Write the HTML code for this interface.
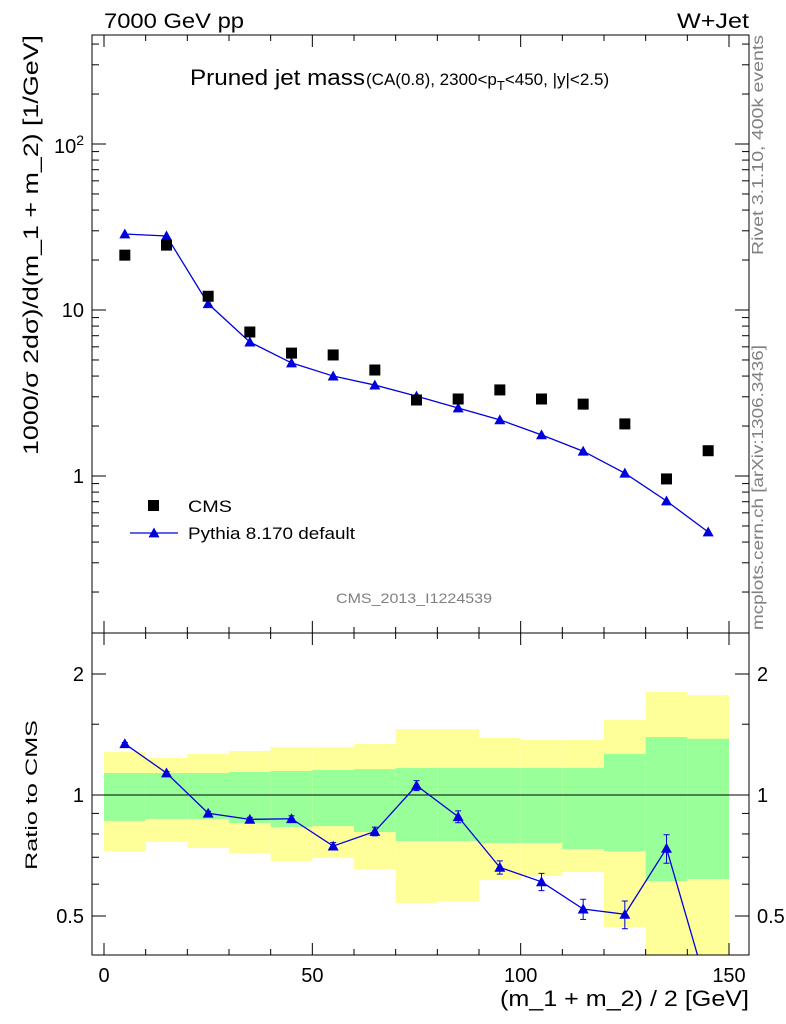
<!DOCTYPE html>
<html><head><meta charset="utf-8"><style>
body{margin:0;background:#fff}
svg{display:block;font-family:"Liberation Sans",sans-serif}
</style></head><body>
<svg id="c" width="786" height="1024" viewBox="0 0 786 1024"></svg>
<script>
const xCenters=[5,15,25,35,45,55,65,75,85,95,105,115,125,135,145];
const cmsValues=[21.4,24.6,12.1,7.37,5.5,5.36,4.35,2.87,2.91,3.3,2.91,2.71,2.06,0.96,1.42];
const pythiaValues=[28.7,27.9,10.9,6.41,4.8,4.0,3.53,3.03,2.57,2.18,1.77,1.41,1.04,0.707,0.46];
const ratioErr=[0.01,0.01,0.01,0.01,0.015,0.015,0.02,0.03,0.03,0.025,0.03,0.03,0.04,0.06,0.06];
const binEdges=[0,10,20,30,40,50,60,70,80,90,100,110,120,130,140,150];
const yellowHi=[1.28,1.236,1.265,1.287,1.317,1.317,1.339,1.459,1.459,1.386,1.37,1.37,1.537,1.804,1.773];
const yellowLo=[0.725,0.764,0.738,0.717,0.685,0.697,0.654,0.539,0.545,0.615,0.629,0.643,0.469,0.35,0.35];
const greenHi=[1.134,1.134,1.134,1.141,1.147,1.154,1.16,1.167,1.167,1.167,1.167,1.167,1.265,1.394,1.38];
const greenLo=[0.862,0.872,0.872,0.852,0.832,0.837,0.809,0.768,0.768,0.76,0.76,0.734,0.725,0.611,0.618];
const xTicks=[0,50,100,150];

const NS="http://www.w3.org/2000/svg";
const svg=document.getElementById('c');
function el(t,a,p){const e=document.createElementNS(NS,t);for(const k in a)e.setAttribute(k,a[k]);(p||svg).appendChild(e);return e;}
const L=92,R=749,MT=35,MB=633,RB=955;
const X=v=>104+v*(625/150);
const YM=v=>476-166*Math.log10(v);
const YR=v=>795-121*Math.log2(v);

const defs=el('defs',{});
const cp1=el('clipPath',{id:'cm'},defs);el('rect',{x:L,y:MT,width:R-L,height:MB-MT},cp1);
const cp2=el('clipPath',{id:'cr'},defs);el('rect',{x:L,y:MB,width:R-L,height:RB-MB},cp2);

const gBand=el('g',{'clip-path':'url(#cr)'});

for(let i=0;i<xCenters.length;i++){
  const x0=X(binEdges[i]),x1=X(binEdges[i+1]);
  const y=el('rect',{x:x0,y:YR(yellowHi[i]),width:x1-x0,height:YR(yellowLo[i])-YR(yellowHi[i]),fill:'#ffff99'},gBand);
  
  const g=el('rect',{x:x0,y:YR(greenHi[i]),width:x1-x0,height:YR(greenLo[i])-YR(greenHi[i]),fill:'#99ff99'},gBand);
  
}
el('line',{x1:L,x2:R,y1:YR(1),y2:YR(1),stroke:'#000','stroke-width':1});

for(const [t,b,n] of [[MT,MB,'main-frame'],[MB,RB,'ratio-frame']]){
  const r=el('rect',{x:L,y:t,width:R-L,height:b-t,fill:'none',stroke:'#000','stroke-width':1});
  
}
function tick(x1,y1,x2,y2){el('line',{x1,y1,x2,y2,stroke:'#000','stroke-width':1});}
function txt(x,y,s,o,p){const t=el('text',Object.assign({x,y,'font-size':19,fill:'#000'},o||{}),p);t.textContent=s;return t;}

for(let v=0;v<=150;v+=10){
  const big=v%50===0,len=big?12:6,x=X(v);
  tick(x,MB,x,MB-len);tick(x,MT,x,MT+len);tick(x,RB,x,RB-len);tick(x,MB,x,MB+len);
}
xTicks.forEach(v=>{const t=txt(X(v),982,String(v),{'text-anchor':'middle','font-size':20});});

for(let d=-1;d<=2;d++)for(let m=1;m<=9;m++){
  const v=m*Math.pow(10,d);if(v<0.113||v>453)continue;
  const y=YM(v),len=m===1?14:7;
  tick(L,y,L+len,y);tick(R,y,R-len,y);
}
const tl1=txt(84,483,'1',{'text-anchor':'end','font-size':20});
const tl10=txt(84,317,'10',{'text-anchor':'end','font-size':20});
const tl100=el('text',{x:84,y:153,'font-size':20,'text-anchor':'end'});tl100.innerHTML='10<tspan dy="-8" font-size="14">2</tspan>';


[0.5,0.6,0.7,0.8,0.9,1,1.5,2].forEach(v=>{const big=(v===0.5||v===1||v===2);const y=YR(v),len=big?14:7;tick(L,y,L+len,y);tick(R,y,R-len,y);});
[[0.5,'0.5'],[1,'1'],[2,'2']].forEach(([v,s])=>{
  const a=txt(84,YR(v)+7,s,{'text-anchor':'end','font-size':20});
  const b=txt(757,YR(v)+7,s,{'font-size':20});
});

const gm=el('g',{'clip-path':'url(#cm)'});
const pl=el('polyline',{points:xCenters.map((x,i)=>X(x)+','+YM(pythiaValues[i])).join(' '),fill:'none',stroke:'#0000dd','stroke-width':1.3},gm);

function tri(x,y,g,s){return el('polygon',{points:`${x},${y-s} ${x-s},${y+s*0.8} ${x+s},${y+s*0.8}`,fill:'#0000dd'},g);}
xCenters.forEach((x,i)=>{
  const p=tri(X(x),YM(pythiaValues[i]),gm,5.5);
  const r=el('rect',{x:X(x)-5.5,y:YM(cmsValues[i])-5.5,width:11,height:11,fill:'#000'},gm);
  
});

const gr=el('g',{'clip-path':'url(#cr)'});
const ratios=xCenters.map((x,i)=>pythiaValues[i]/cmsValues[i]);
const rl=el('polyline',{points:xCenters.map((x,i)=>X(x)+','+YR(ratios[i])).join(' '),fill:'none',stroke:'#0000dd','stroke-width':1.3},gr);

xCenters.forEach((x,i)=>{
  const r=ratios[i],e=ratioErr[i];
  el('line',{x1:X(x),x2:X(x),y1:YR(r+e),y2:YR(r-e),stroke:'#0000dd','stroke-width':1},gr);
  el('line',{x1:X(x)-3,x2:X(x)+3,y1:YR(r+e),y2:YR(r+e),stroke:'#0000dd'},gr);
  el('line',{x1:X(x)-3,x2:X(x)+3,y1:YR(r-e),y2:YR(r-e),stroke:'#0000dd'},gr);
  const p=tri(X(x),YR(r),gr,5.5);
});

const LA='spacingAndGlyphs';
let t;
t=txt(104,28,'7000 GeV pp',{'font-size':21,textLength:140,lengthAdjust:LA});
t=txt(749,28,'W+Jet',{'font-size':21,'text-anchor':'end',textLength:72,lengthAdjust:LA});
t=txt(190,85,'Pruned jet mass',{'font-size':22,textLength:175,lengthAdjust:LA});
t=el('text',{x:366,y:85,'font-size':17});t.innerHTML='(CA(0.8), 2300&lt;p<tspan font-size="13" dy="5">T</tspan><tspan dy="-5">&lt;450, |y|&lt;2.5)</tspan>';

t=txt(0,0,'1000/σ 2dσ)/d(m_1 + m_2) [1/GeV]',{'font-size':21,'text-anchor':'end',transform:'translate(38,35) rotate(-90)',textLength:420,lengthAdjust:LA});
t=txt(0,0,'Ratio to CMS',{'font-size':17,'text-anchor':'middle',transform:'translate(37,795) rotate(-90)',textLength:150,lengthAdjust:LA});
t=txt(749,1006,'(m_1 + m_2) / 2 [GeV]',{'font-size':22,'text-anchor':'end',textLength:249,lengthAdjust:LA});
t=txt(0,0,'Rivet 3.1.10,  400k events',{'font-size':16,fill:'#808080','text-anchor':'end',transform:'translate(763,35) rotate(-90)',textLength:220,lengthAdjust:LA});
t=txt(0,0,'mcplots.cern.ch [arXiv:1306.3436]',{'font-size':16,fill:'#808080','text-anchor':'end',transform:'translate(763,345) rotate(-90)',textLength:285,lengthAdjust:LA});
t=txt(414,603,'CMS_2013_I1224539',{'font-size':14,fill:'#808080','text-anchor':'middle',textLength:156,lengthAdjust:LA});

const lg=el('g',{});
el('rect',{x:148,y:500,width:11,height:11,fill:'#000'},lg);
t=txt(188,512,'CMS',{'font-size':17,textLength:44,lengthAdjust:LA},lg);
el('line',{x1:130,x2:178,y1:533,y2:533,stroke:'#0000dd','stroke-width':1.3},lg);
tri(154,533,lg,5.5);
t=txt(188,539,'Pythia 8.170 default',{'font-size':17,textLength:167,lengthAdjust:LA},lg);
</script>
</body></html>
